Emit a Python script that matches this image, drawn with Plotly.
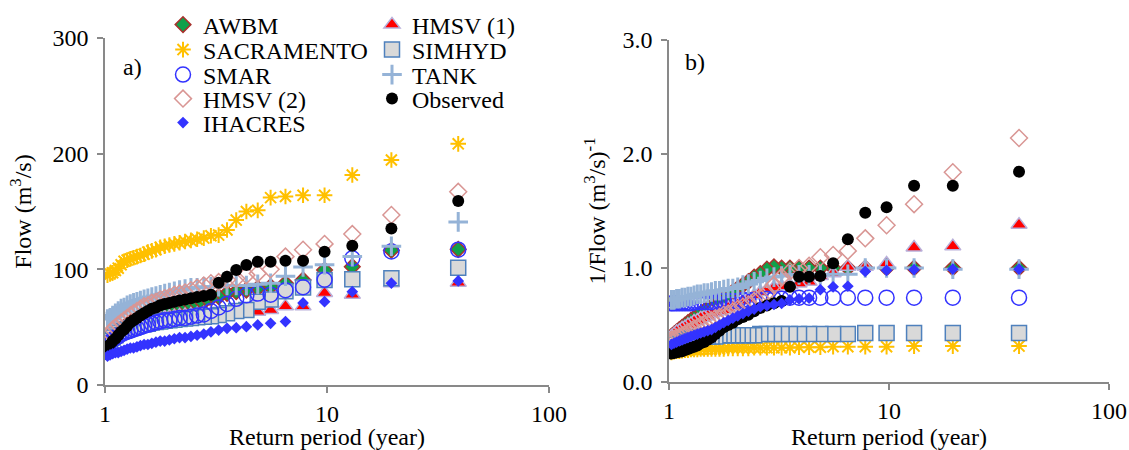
import plotly.graph_objects as go

# Return period (year), Weibull positions for 38 ranked events
return_period = [39.0, 19.5, 13.0, 9.75, 7.8, 6.5, 5.571, 4.875, 4.333, 3.9, 3.545, 3.25, 3.0,
                 2.786, 2.6, 2.438, 2.294, 2.167, 2.053, 1.95, 1.857, 1.773, 1.696, 1.625, 1.56,
                 1.5, 1.444, 1.393, 1.345, 1.3, 1.258, 1.219, 1.182, 1.147, 1.114, 1.083, 1.054, 1.026]

series_names = ["AWBM", "HMSV (1)", "SACRAMENTO", "SIMHYD", "SMAR", "TANK", "HMSV (2)", "Observed", "IHACRES"]

# ---- panel a) Flow (m3/s)
awbm_a = [117.3, 116.5, 102.3, 99.4, 90.8, 87.9, 85, 83.6, 82.1, 80.7, 79.2, 76.3, 75, 72, 70, 68, 67, 66, 65,
          64, 63, 62, 61, 60, 59, 58, 57, 56, 55, 54, 52, 50, 48, 46, 43, 40, 36, 32]
hmsv1_a = [88.5, 88, 78, 79.5, 68, 68, 64.8, 63.4, 63, 63, 62.5, 62, 62, 62, 61.5, 61, 60.5, 60, 59.5,
           59, 58.5, 58, 57.5, 57, 56.5, 56, 55, 54, 53, 52, 51, 50, 48, 47, 45, 43, 40, 36]
sacramento_a = [208.5, 194.5, 181.5, 164, 164, 163, 162, 151, 150, 142.6, 134, 129.6, 129, 127, 126, 125, 124,
                123, 122, 121, 120, 119, 117, 116, 115, 113, 112, 111, 110, 109, 108, 107, 104, 101, 99, 97, 96, 95]
simhyd_a = [101.4, 92.2, 91.4, 90.8, 84.4, 81, 74, 72, 64.8, 64, 62, 60.5, 59.5, 59, 58.5, 58, 57.5, 57, 56.5,
            56, 55.5, 55, 54.5, 54, 53, 52.5, 52, 51, 50, 49, 48, 47, 46, 45, 43, 41, 38, 35]
smar_a = [117, 115.5, 109.5, 91, 84.5, 82, 78, 79, 77.5, 74.5, 70, 67, 64, 61, 60, 59, 58, 58, 57,
          56, 56, 55, 54, 53, 52, 51, 50, 49, 48, 47, 46, 45, 44, 42, 41, 39, 37, 35]
tank_a = [141, 120, 111, 104, 102, 94, 88, 87, 86, 86, 86, 85, 85, 85, 84, 84, 83, 82, 81,
          80, 79, 78, 77, 76, 75, 74, 73, 72, 71, 70, 69, 67, 66, 64, 62, 60, 58, 57]
hmsv2_a = [167, 147, 130.5, 122, 117, 111, 100, 96.5, 95, 92, 91, 89, 88, 86, 84, 82, 80, 79, 78,
           76, 75, 74, 72, 71, 69, 68, 66, 64, 62, 60, 58, 56, 54, 52, 50, 48, 45, 42]
observed_a = [159, 135.4, 120.4, 115.2, 107.5, 107.5, 106.6, 106.6, 103.7, 99.4, 93.6, 88.4, 78, 77, 76, 75, 74,
              73, 72, 71, 70, 69, 67, 66, 64, 62, 60, 58, 56, 54, 51, 48, 46, 43, 40, 38, 35, 33]
ihacres_a = [90, 88, 80.7, 72, 71, 54.8, 53.3, 51.9, 50.4, 49.5, 49, 47.5, 46, 44, 43, 42, 41, 41, 40,
             39, 38, 38, 37, 36, 35, 35, 34, 33, 32, 32, 31, 30, 29, 28, 28, 27, 26, 25]

# ---- panel b) 1/Flow (m3/s)^-1
awbm_b = [1.0, 1.0, 1.0, 1.0, 1.0, 1.0, 1.0, 1.0, 1.0, 1.0, 1.0, 1.0, 1.01, 0.99, 0.95, 0.92, 0.88, 0.85, 0.82,
          0.79, 0.76, 0.73, 0.70, 0.68, 0.66, 0.64, 0.62, 0.60, 0.58, 0.56, 0.54, 0.52, 0.50, 0.48, 0.46, 0.44, 0.42, 0.40]
hmsv1_b = [1.38, 1.19, 1.18, 1.04, 1.01, 1.01, 0.955, 0.93, 0.88, 0.865, 0.85, 0.84, 0.83, 0.81, 0.79, 0.76, 0.73,
           0.71, 0.68, 0.66, 0.65, 0.63, 0.62, 0.61, 0.60, 0.58, 0.57, 0.56, 0.54, 0.53, 0.51, 0.50, 0.48, 0.47,
           0.45, 0.44, 0.42, 0.40]
sacramento_b = [0.315, 0.315, 0.315, 0.31, 0.31, 0.31, 0.31, 0.305, 0.305, 0.305, 0.30, 0.30, 0.30, 0.30, 0.30,
                0.30, 0.295, 0.295, 0.295, 0.295, 0.295, 0.29, 0.29, 0.29, 0.29, 0.29, 0.29, 0.29, 0.285, 0.285,
                0.285, 0.28, 0.28, 0.275, 0.27, 0.27, 0.265, 0.26]
simhyd_b = [0.43, 0.43, 0.43, 0.43, 0.43, 0.42, 0.42, 0.42, 0.42, 0.42, 0.42, 0.42, 0.42, 0.42, 0.42, 0.41, 0.41,
            0.41, 0.41, 0.41, 0.41, 0.41, 0.41, 0.40, 0.40, 0.40, 0.40, 0.39, 0.39, 0.39, 0.38, 0.38, 0.37, 0.37,
            0.36, 0.35, 0.34, 0.33]
smar_b = [0.74, 0.74, 0.74, 0.74, 0.74, 0.74, 0.74, 0.74, 0.74, 0.74, 0.74, 0.73, 0.73, 0.73, 0.72, 0.72, 0.72,
          0.72, 0.71, 0.71, 0.71, 0.71, 0.71, 0.70, 0.70, 0.70, 0.70, 0.70, 0.70, 0.70, 0.69, 0.69, 0.69, 0.69,
          0.69, 0.69, 0.69, 0.69]
tank_b = [0.99, 0.99, 1.0, 1.0, 1.0, 0.945, 0.945, 0.94, 0.94, 0.94, 0.94, 0.93, 0.92, 0.91, 0.89, 0.88, 0.86,
          0.85, 0.83, 0.82, 0.82, 0.81, 0.80, 0.80, 0.79, 0.78, 0.78, 0.77, 0.77, 0.76, 0.75, 0.75, 0.74, 0.74,
          0.73, 0.73, 0.72, 0.72]
hmsv2_b = [2.14, 1.84, 1.56, 1.375, 1.26, 1.15, 1.114, 1.094, 1.02, 1.0, 0.97, 0.92, 0.85, 0.78, 0.74, 0.71,
           0.68, 0.66, 0.64, 0.62, 0.60, 0.59, 0.57, 0.56, 0.54, 0.53, 0.51, 0.50, 0.48, 0.47, 0.45, 0.44, 0.42,
           0.41, 0.40, 0.39, 0.38, 0.37]
observed_b = [1.845, 1.722, 1.722, 1.532, 1.485, 1.252, 1.041, 0.93, 0.924, 0.924, 0.836, 0.71, 0.69, 0.67, 0.65,
              0.62, 0.59, 0.57, 0.55, 0.52, 0.50, 0.48, 0.45, 0.42, 0.39, 0.37, 0.35, 0.34, 0.32, 0.31, 0.30,
              0.29, 0.28, 0.27, 0.265, 0.26, 0.255, 0.25]
ihacres_b = [0.99, 0.99, 0.985, 0.98, 0.97, 0.84, 0.835, 0.81, 0.735, 0.73, 0.72, 0.69, 0.68, 0.67, 0.66, 0.64,
             0.62, 0.60, 0.58, 0.56, 0.54, 0.52, 0.50, 0.48, 0.46, 0.45, 0.44, 0.43, 0.42, 0.41, 0.40, 0.39, 0.38,
             0.37, 0.36, 0.35, 0.34, 0.33]

x_tick_vals = [1, 10, 100]
x_tick_text = ["1", "10", "100"]
y_a_ticks = [0, 100, 200, 300]
y_b_ticks = [0.0, 1.0, 2.0, 3.0]

panel_a = [awbm_a, hmsv1_a, sacramento_a, simhyd_a, smar_a, tank_a, hmsv2_a, observed_a, ihacres_a]
panel_b = [awbm_b, hmsv1_b, sacramento_b, simhyd_b, smar_b, tank_b, hmsv2_b, observed_b, ihacres_b]

FONT = "Liberation Serif"

markers = [
    dict(symbol="diamond", size=12, color="#10A04A", line=dict(color="#A8322D", width=1.5)),
    dict(symbol="triangle-up", size=14, color="#FF0000", line=dict(color="#B9B0DA", width=1.5)),
    dict(symbol="asterisk-open", size=13, color="#FFC000", line=dict(color="#FFC000", width=2)),
    dict(symbol="square", size=15, color="#D9D9D9", line=dict(color="#4F81BD", width=1.5)),
    dict(symbol="circle-open", size=15, color="#3333FF", line=dict(color="#3333FF", width=1.5)),
    dict(symbol="cross-thin-open", size=14, color="#95B3D7", line=dict(color="#95B3D7", width=3)),
    dict(symbol="diamond-open", size=13, color="#D99694", line=dict(color="#D99694", width=1.5)),
    dict(symbol="circle", size=12, color="#000000", line=dict(width=0)),
    dict(symbol="diamond", size=9, color="#3333FF", line=dict(width=0)),
]

# legend slot per series: (column, row)
legend_slots = [(0, 0), (1, 0), (0, 1), (1, 1), (0, 2), (1, 2), (0, 3), (1, 3), (0, 4)]
col_left_px = [163, 372]
row_y_px = [25, 50, 75, 99, 123]

W, H = 1129, 450
ML, MR, MT, MB = 105, 20, 38, 65
PW, PH = W - ML - MR, H - MT - MB

fig = go.Figure()
legend_layouts = {}
for i, name in enumerate(series_names):
    lg = "legend" if i == 0 else f"legend{i + 1}"
    col, row = legend_slots[i]
    legend_layouts[lg] = dict(
        x=(col_left_px[col] - ML) / PW, y=(H - MB - row_y_px[row]) / PH,
        xanchor="left", yanchor="middle", bgcolor="rgba(0,0,0,0)", borderwidth=0,
        font=dict(family=FONT, size=24, color="black"),
    )
    fig.add_trace(go.Scatter(x=return_period, y=panel_a[i], mode="markers", name=name,
                             marker=markers[i], xaxis="x", yaxis="y", legend=lg, showlegend=True))
for i, name in enumerate(series_names):
    fig.add_trace(go.Scatter(x=return_period, y=panel_b[i], mode="markers", name=name,
                             marker=markers[i], xaxis="x2", yaxis="y2", showlegend=False))

axis_style = dict(showline=True, linecolor="#898989", linewidth=1.5, ticks="outside", ticklen=6,
                  tickcolor="#898989", tickwidth=1.5, showgrid=False, zeroline=False,
                  tickfont=dict(family=FONT, size=24, color="black"), mirror=False)

xa_dom = [0, (549 - ML) / PW]
xb_dom = [(669 - ML) / PW, 1.0]
ya_dom = [0, 1]
yb_dom = [3 / PH, (PH - 2) / PH]

fig.update_layout(
    width=W, height=H, paper_bgcolor="white", plot_bgcolor="white",
    margin=dict(l=ML, r=MR, t=MT, b=MB, autoexpand=False),
    font=dict(family=FONT, size=24, color="black"),
    xaxis=dict(type="log", range=[0, 2], domain=xa_dom, anchor="y", tickvals=x_tick_vals, ticktext=x_tick_text,
               title=dict(text="Return period (year)", font=dict(family=FONT, size=24), standoff=2), **axis_style),
    yaxis=dict(range=[0, 300], domain=ya_dom, anchor="x", tickvals=y_a_ticks, ticklabelstandoff=4,
               title=dict(text="Flow (m<sup>3</sup>/s)", font=dict(family=FONT, size=24), standoff=14), **axis_style),
    xaxis2=dict(type="log", range=[0, 2], domain=xb_dom, anchor="y2", tickvals=x_tick_vals, ticktext=x_tick_text,
                title=dict(text="Return period (year)", font=dict(family=FONT, size=24), standoff=2), **axis_style),
    yaxis2=dict(range=[0, 3], domain=yb_dom, anchor="x2", tickvals=y_b_ticks, tickformat=".1f", ticklabelstandoff=4,
                title=dict(text="1/Flow (m<sup>3</sup>/s)<sup>-1</sup>", font=dict(family=FONT, size=24), standoff=10),
                **axis_style),
    annotations=[
        dict(text="a)", xref="x domain", yref="y domain", x=0.036, y=0.916, xanchor="left", yanchor="middle",
             showarrow=False, font=dict(family=FONT, size=24, color="black")),
        dict(text="b)", xref="x2 domain", yref="y2 domain", x=0.032, y=0.936, xanchor="left", yanchor="middle",
             showarrow=False, font=dict(family=FONT, size=24, color="black")),
    ],
    **legend_layouts,
)

fig.write_html("out.html", config={"displayModeBar": False},
               post_script="document.body.style.margin='0';document.body.style.overflow='hidden';")
